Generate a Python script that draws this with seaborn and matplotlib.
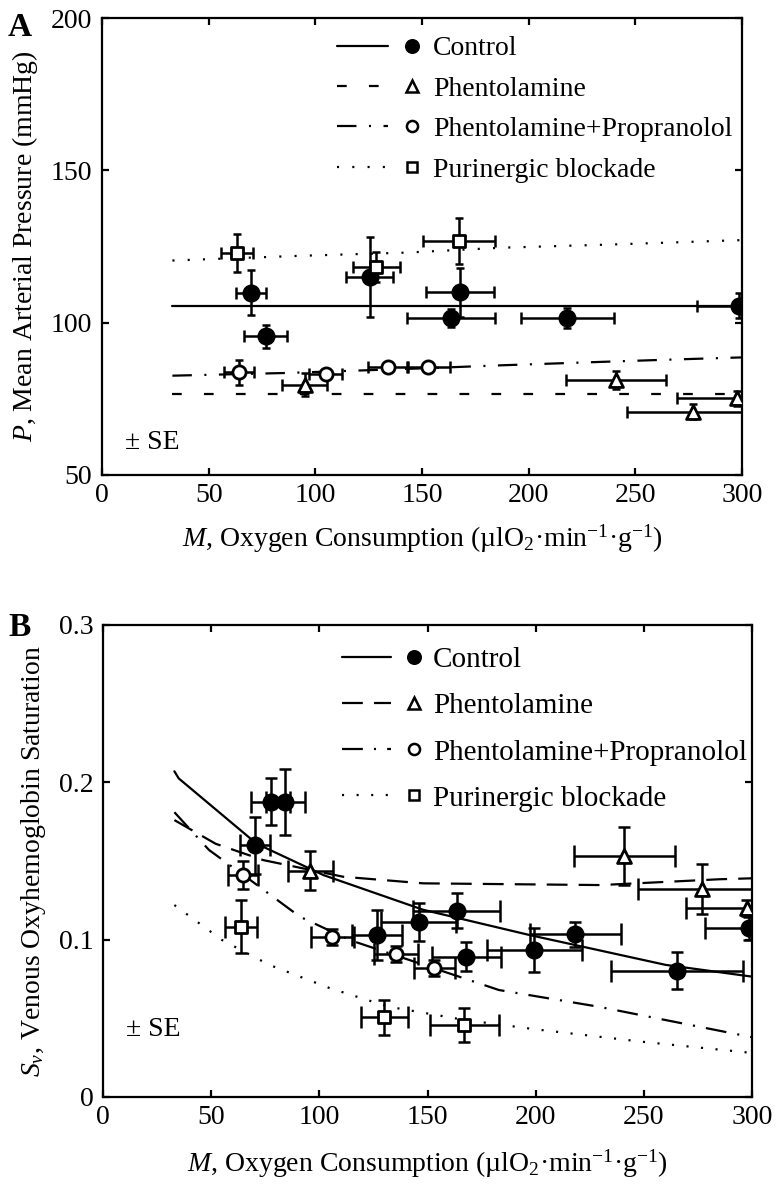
import numpy as np
import pandas as pd
import matplotlib
matplotlib.use("Agg")
import matplotlib.pyplot as plt
import seaborn as sns
from matplotlib.lines import Line2D
from matplotlib.legend_handler import HandlerBase

# ---------------- data: panel A (mean arterial pressure) ----------------
a_ctrl_x = [69.8, 76.7, 125.5, 163.5, 167.8, 218.1, 298.8]
a_ctrl_y = [109.8, 95.5, 115.0, 101.5, 110.0, 101.5, 105.6]
a_ctrl_xerr = [7.2, 10.0, 11.0, 20.7, 16.0, 21.7, 20.0]
a_ctrl_yerr = [7.4, 3.8, 13.0, 3.0, 8.0, 3.2, 4.0]

a_phen_x = [95.0, 240.8, 277.2, 297.5]
a_phen_y = [79.6, 81.2, 70.8, 75.2]
a_phen_xerr = [10.5, 23.4, 31.0, 28.0]
a_phen_yerr = [3.8, 3.0, 2.5, 2.5]

a_pp_x = [64.4, 104.8, 134.0, 153.0]
a_pp_y = [83.7, 83.1, 85.3, 85.6]
a_pp_xerr = [7.0, 7.8, 9.5, 10.0]
a_pp_yerr = [4.2, 1.5, 1.2, 1.2]

a_pur_x = [63.4, 128.5, 167.4]
a_pur_y = [122.9, 118.2, 126.7]
a_pur_xerr = [7.6, 11.0, 16.7]
a_pur_yerr = [6.3, 5.0, 7.5]

# model curves, panel A
a_mod_ctrl_x = [33, 300]
a_mod_ctrl_y = [105.6, 105.6]
a_mod_phen_x = [33, 300]
a_mod_phen_y = [76.6, 76.6]
a_mod_pp_x = [33, 87, 150, 187, 237, 263, 300]
a_mod_pp_y = [82.6, 83.5, 85.0, 86.0, 87.2, 87.8, 88.6]
a_mod_pur_x = [33, 91, 143, 187, 241, 300]
a_mod_pur_y = [120.4, 121.9, 123.0, 124.6, 125.7, 127.1]

# ---------------- data: panel B (venous saturation) ----------------
b_ctrl_x = [70.1, 77.5, 84.3, 126.7, 145.9, 163.5, 167.9, 199.4, 218.4, 265.3, 298.4]
b_ctrl_y = [0.160, 0.1876, 0.1876, 0.103, 0.1112, 0.1184, 0.0892, 0.0934, 0.1034, 0.0803, 0.1072]
b_ctrl_xerr = [7.0, 9.0, 9.0, 11.5, 17.5, 20.0, 16.0, 22.0, 21.0, 30.5, 20.0]
b_ctrl_yerr = [0.018, 0.015, 0.021, 0.016, 0.012, 0.011, 0.009, 0.014, 0.008, 0.0116, 0.0074]

b_phen_x = [95.9, 241.0, 277.1, 297.6]
b_phen_y = [0.1438, 0.1532, 0.132, 0.1203]
b_phen_xerr = [10.6, 23.5, 30.0, 28.0]
b_phen_yerr = [0.0125, 0.0185, 0.016, 0.005]

b_pp_x = [64.7, 106.0, 135.5, 153.1]
b_pp_y = [0.141, 0.1019, 0.0909, 0.0818]
b_pp_xerr = [7.0, 10.0, 10.0, 9.5]
b_pp_yerr = [0.009, 0.005, 0.005, 0.005]

b_pur_x = [63.9, 130.1, 167.1]
b_pur_y = [0.1083, 0.0507, 0.0458]
b_pur_xerr = [7.3, 10.7, 16.0]
b_pur_yerr = [0.017, 0.011, 0.011]

# model curves, panel B
b_mod_ctrl_x = [33, 35, 71, 102, 148, 197, 260, 300]
b_mod_ctrl_y = [0.207, 0.2025, 0.161, 0.141, 0.119, 0.103, 0.084, 0.0765]
b_mod_phen_x = [33, 52, 74, 111, 148, 230, 285, 300]
b_mod_phen_y = [0.176, 0.161, 0.1506, 0.140, 0.1358, 0.1347, 0.1384, 0.139]
b_mod_pp_x = [33, 49, 68, 91, 114, 183, 229, 300]
b_mod_pp_y = [0.181, 0.157, 0.138, 0.1146, 0.0998, 0.068, 0.0574, 0.038]
b_mod_pur_x = [33, 55, 77, 105, 132, 167, 200, 250, 300]
b_mod_pur_y = [0.122, 0.0998, 0.0839, 0.0691, 0.0574, 0.049, 0.043, 0.035, 0.028]

legend_labels = ["Control", "Phentolamine", "Phentolamine+Propranolol", "Purinergic blockade"]
x_ticks = [0, 50, 100, 150, 200, 250, 300]
a_y_ticks = [50, 100, 150, 200]
b_y_ticks = [0, 0.1, 0.2, 0.3]
b_y_ticklabels = ["0", "0.1", "0.2", "0.3"]

# ---------------- style ----------------
sns.set_theme(style="ticks")
plt.rcParams.update({
    "font.family": ["Liberation Serif", "DejaVu Serif"],
    "mathtext.fontset": "custom",
    "mathtext.rm": "Liberation Serif",
    "mathtext.it": "Liberation Serif:italic",
    "mathtext.bf": "Liberation Serif:bold",
    "lines.scale_dashes": False,
    "axes.linewidth": 1.6,
    "axes.edgecolor": "black",
    "xtick.direction": "in",
    "ytick.direction": "in",
    "xtick.top": True,
    "ytick.right": True,
    "xtick.major.size": 5,
    "ytick.major.size": 5,
    "xtick.major.width": 1.6,
    "ytick.major.width": 1.6,
    "xtick.major.pad": 6,
    "ytick.major.pad": 7,
    "xtick.color": "black",
    "ytick.color": "black",
    "font.size": 20,
    "text.color": "black",
    "axes.labelcolor": "black",
})

W, H = 777, 1190
fig = plt.figure(figsize=(W / 100, H / 100), dpi=100)


def ax_px(l, r, t, b):
    return fig.add_axes([l / W, 1 - b / H, (r - l) / W, (b - t) / H])


axA = ax_px(102, 742, 18, 475)
axB = ax_px(103, 752, 625, 1097)

LS_A = {
    "ctrl": "-",
    "phen": (0, (7, 16)),
    "pp": (0, (14, 9, 1.5, 9)),
    "pur": (0, (1.5, 9.5)),
}
LS_B = {
    "ctrl": "-",
    "phen": (0, (15, 8)),
    "pp": (0, (15, 8, 1.5, 8)),
    "pur": (0, (1.5, 9.0)),
}


def draw_curve(ax, x, y, ls):
    df = pd.DataFrame({"x": x, "y": y})
    sns.lineplot(data=df, x="x", y="y", ax=ax, color="black", linewidth=1.6,
                 linestyle=ls, sort=False, estimator=None, errorbar=None, zorder=2)


def draw_points(ax, x, y, xerr, yerr, marker, face, size, xcap, ycap):
    ax.errorbar(x, y, xerr=xerr, fmt="none", ecolor="black", elinewidth=1.8,
                capsize=xcap, capthick=1.8, zorder=3)
    ax.errorbar(x, y, yerr=yerr, fmt="none", ecolor="black", elinewidth=1.8,
                capsize=ycap, capthick=1.8, zorder=3)
    df = pd.DataFrame({"x": x, "y": y})
    sns.scatterplot(data=df, x="x", y="y", ax=ax, marker=marker, s=size ** 2,
                    color=face, edgecolor="black", linewidth=2.0, zorder=5, legend=False)


class Entry:
    def __init__(self, ls, marker, face, ms):
        self.ls = ls
        self.marker = marker
        self.face = face
        self.ms = ms


class EntryHandler(HandlerBase):
    def create_artists(self, legend, h, xdescent, ydescent, width, height, fontsize, trans):
        y = (height - ydescent) / 2.0
        x0 = -xdescent
        line = Line2D([x0, x0 + 0.58 * width], [y, y], color="black", linewidth=1.6, linestyle=h.ls)
        mk = Line2D([x0 + 0.85 * width], [y], marker=h.marker, markersize=h.ms,
                    markerfacecolor=h.face, markeredgecolor="black", markeredgewidth=1.8,
                    linestyle="none")
        line.set_transform(trans)
        mk.set_transform(trans)
        return [line, mk]


def make_legend(ax, ls, anchor, fs, spacing, hlen, hpad):
    handles = [
        Entry(ls["ctrl"], "o", "black", 9),
        Entry(ls["phen"], "^", "white", 8.5),
        Entry(ls["pp"], "o", "white", 8),
        Entry(ls["pur"], "s", "white", 7.5),
    ]
    ax.legend(handles, legend_labels, handler_map={Entry: EntryHandler()},
              loc="upper left", bbox_to_anchor=anchor, frameon=False,
              borderpad=0, borderaxespad=0, handlelength=hlen, handletextpad=hpad,
              labelspacing=spacing, fontsize=fs)


xlabel_text = r"$\mathit{M}$, Oxygen Consumption (µlO$_2$·min$^{-1}$·g$^{-1}$)"

# ---------------- panel A ----------------
draw_curve(axA, a_mod_ctrl_x, a_mod_ctrl_y, LS_A["ctrl"])
draw_curve(axA, a_mod_phen_x, a_mod_phen_y, LS_A["phen"])
draw_curve(axA, a_mod_pp_x, a_mod_pp_y, LS_A["pp"])
draw_curve(axA, a_mod_pur_x, a_mod_pur_y, LS_A["pur"])
draw_points(axA, a_ctrl_x, a_ctrl_y, a_ctrl_xerr, a_ctrl_yerr, "o", "black", 11, 4.3, 3.2)
draw_points(axA, a_phen_x, a_phen_y, a_phen_xerr, a_phen_yerr, "^", "white", 10, 4.3, 3.2)
draw_points(axA, a_pp_x, a_pp_y, a_pp_xerr, a_pp_yerr, "o", "white", 9.5, 4.3, 3.2)
draw_points(axA, a_pur_x, a_pur_y, a_pur_xerr, a_pur_yerr, "s", "white", 8.5, 4.3, 3.2)

axA.set_xlim(0, 300)
axA.set_ylim(50, 200)
axA.set_xticks(x_ticks)
axA.set_yticks(a_y_ticks)
axA.set_xlabel(xlabel_text, fontsize=20, labelpad=10)
axA.set_ylabel(r"$\mathit{P}$, Mean Arterial Pressure (mmHg)", fontsize=20, labelpad=8)
axA.text(0.036, 0.071, "± SE", transform=axA.transAxes, fontsize=20, va="center", ha="left")
make_legend(axA, LS_A, (0.367, 0.961), 20, 0.54, 3.17, 0.29)

# ---------------- panel B ----------------
draw_curve(axB, b_mod_ctrl_x, b_mod_ctrl_y, LS_B["ctrl"])
draw_curve(axB, b_mod_phen_x, b_mod_phen_y, LS_B["phen"])
draw_curve(axB, b_mod_pp_x, b_mod_pp_y, LS_B["pp"])
draw_curve(axB, b_mod_pur_x, b_mod_pur_y, LS_B["pur"])
draw_points(axB, b_ctrl_x, b_ctrl_y, b_ctrl_xerr, b_ctrl_yerr, "o", "black", 11, 8.0, 4.3)
draw_points(axB, b_phen_x, b_phen_y, b_phen_xerr, b_phen_yerr, "^", "white", 10, 8.0, 4.3)
draw_points(axB, b_pp_x, b_pp_y, b_pp_xerr, b_pp_yerr, "o", "white", 9.5, 8.0, 4.3)
draw_points(axB, b_pur_x, b_pur_y, b_pur_xerr, b_pur_yerr, "s", "white", 8.5, 8.0, 4.3)

axB.set_xlim(0, 300)
axB.set_ylim(0, 0.3)
axB.set_xticks(x_ticks)
axB.set_yticks(b_y_ticks)
axB.set_yticklabels(b_y_ticklabels)
axB.set_xlabel(xlabel_text, fontsize=20, labelpad=12)
axB.set_ylabel(r"$\mathit{S_v}$, Venous Oxyhemoglobin Saturation", fontsize=20, labelpad=8)
axB.text(0.036, 0.143, "± SE", transform=axB.transAxes, fontsize=20, va="center", ha="left")
make_legend(axB, LS_B, (0.368, 0.9536), 21, 0.675, 2.9, 0.216)

for ax in (axA, axB):
    ax.tick_params(axis="both", labelsize=20)
    for s in ax.spines.values():
        s.set_color("black")

fig.text(20 / W, 1 - 27 / H, "A", fontsize=24, fontweight="bold", ha="center", va="center")
fig.text(20 / W, 1 - 628 / H, "B", fontsize=24, fontweight="bold", ha="center", va="center")

fig.savefig("out.png", dpi=100, facecolor="white")
